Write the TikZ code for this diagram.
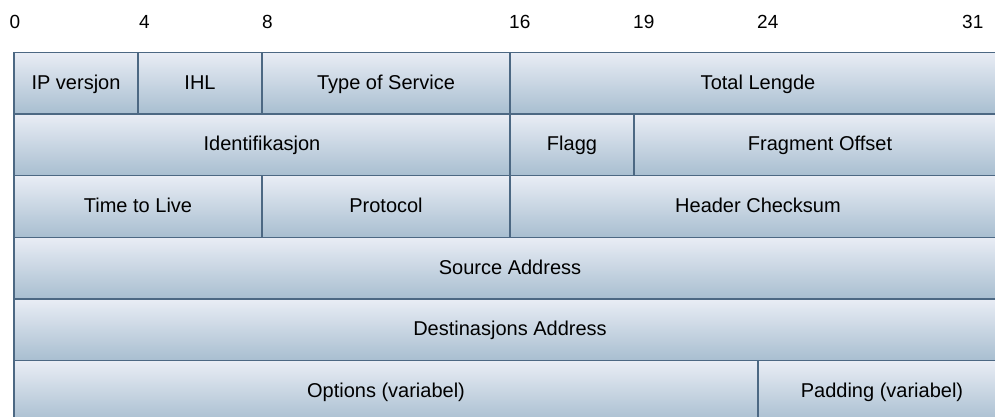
\documentclass[tikz,border=0pt]{standalone}
\usepackage{fontspec}
\setmainfont{Liberation Sans}
\definecolor{celltop}{HTML}{E9EDF5}
\definecolor{cellbot}{HTML}{A8BED0}
\definecolor{cellline}{HTML}{4C6883}
\begin{document}
\begin{tikzpicture}[x=1pt,y=-1pt,
  field/.style={rectangle, draw=cellline, line width=1.5pt,
    top color=celltop, bottom color=cellbot,
    minimum height=61.67pt, inner sep=0pt, outer sep=0pt,
    font=\fontsize{20}{24}\selectfont, text height=14.3pt, text depth=1.9pt},
  bitnum/.style={anchor=base west, inner sep=0pt,
    font=\fontsize{19}{22}\selectfont}]
\useasboundingbox (0,0) rectangle (995,416);
\clip (0,0) rectangle (995,416);

% bit positions above the header
\node[bitnum] (b0)  at (9.5,28.3)  {0};
\node[bitnum] (b4)  at (139,28.3)  {4};
\node[bitnum] (b8)  at (262,28.3)  {8};
\node[bitnum] (b16) at (509,28.3)  {16};
\node[bitnum] (b19) at (633,28.3)  {19};
\node[bitnum] (b24) at (757,28.3)  {24};
\node[bitnum] (b31) at (962,28.3)  {31};

% row 1
\node[field, minimum width=124pt] (ver)  at (76,83.1)  {IP versjon};
\node[field, minimum width=124pt] (ihl)  at (200,83.1) {IHL};
\node[field, minimum width=248pt] (tos)  at (386,83.1) {Type of Service};
\node[field, minimum width=496pt] (len)  at (758,83.1) {Total Lengde};
% row 2
\node[field, minimum width=496pt] (ident) at (262,144.77) {Identifikasjon};
\node[field, minimum width=124pt] (flag)  at (572,144.77) {Flagg};
\node[field, minimum width=372pt] (frag)  at (820,144.77) {Fragment Offset};
% row 3
\node[field, minimum width=248pt] (ttl)   at (138,206.44) {Time to Live};
\node[field, minimum width=248pt] (proto) at (386,206.44) {Protocol};
\node[field, minimum width=496pt] (csum)  at (758,206.44) {Header Checksum};
% row 4
\node[field, minimum width=992pt] (src)   at (510,268.11) {Source Address};
% row 5
\node[field, minimum width=992pt] (dst)   at (510,329.78) {Destinasjons Address};
% row 6
\node[field, minimum width=744pt] (opt)   at (386,391.45) {Options (variabel)};
\node[field, minimum width=248pt] (pad)   at (882,391.45) {Padding (variabel)};
\end{tikzpicture}
\end{document}
